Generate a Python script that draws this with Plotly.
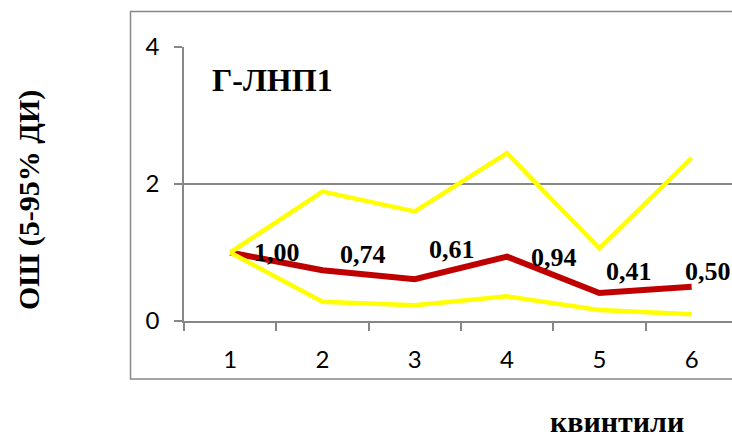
import plotly.graph_objects as go

# Odds ratios by quintile with 5–95% confidence bounds
quintiles = [1, 2, 3, 4, 5, 6]
odds_ratio = [1.00, 0.74, 0.61, 0.94, 0.41, 0.50]
ci_upper = [1.00, 1.89, 1.60, 2.45, 1.06, 2.38]
ci_lower = [1.00, 0.28, 0.23, 0.36, 0.16, 0.10]
y_ticks = [0, 2, 4]

# per-label pixel nudges (x, y) for the value labels
label_shift = [(22, 0), (16, 16), (12, 30), (22, -1), (5, 21), (-9, 15)]

W, H = 732, 437
L, R, T, B = 184, 0, 47, 116
plot_w = W - L - R
plot_h = H - T - B


def px_x(px):
    return (px - L) / plot_w


def px_y(py):
    return (H - B - py) / plot_h


grid = "#878787"
serif = "Liberation Serif"

fig = go.Figure()
fig.add_trace(go.Scatter(x=quintiles, y=odds_ratio, mode="lines",
                         line=dict(color="#C00000", width=6), hoverinfo="skip"))
fig.add_trace(go.Scatter(x=quintiles, y=ci_upper, mode="lines",
                         line=dict(color="#FFFF00", width=4.5), hoverinfo="skip"))
fig.add_trace(go.Scatter(x=quintiles, y=ci_lower, mode="lines",
                         line=dict(color="#FFFF00", width=4.5), hoverinfo="skip"))

for q, v, (dx, dy) in zip(quintiles, odds_ratio, label_shift):
    fig.add_annotation(x=q, y=v, text=f"{v:.2f}".replace(".", ","),
                       showarrow=False, xanchor="left", yanchor="middle",
                       xshift=dx, yshift=dy,
                       font=dict(family=serif, size=26, color="black", weight="bold"))

fig.add_annotation(xref="paper", yref="paper", x=px_x(210), y=px_y(80),
                   text="Г-ЛНП1", showarrow=False, xanchor="left", yanchor="middle",
                   font=dict(family=serif, size=32, color="black", weight="bold"))
fig.add_annotation(xref="paper", yref="paper", x=px_x(29), y=px_y(200),
                   text="ОШ (5-95% ДИ)", showarrow=False, textangle=-90,
                   xanchor="center", yanchor="middle",
                   font=dict(family=serif, size=30, color="black", weight="bold"))
fig.add_annotation(xref="paper", yref="paper", x=px_x(617), y=px_y(421),
                   text="квинтили", showarrow=False, xanchor="center", yanchor="middle",
                   font=dict(family=serif, size=30, color="black", weight="bold"))

# chart frame
fig.add_shape(type="rect", xref="paper", yref="paper",
              x0=px_x(130.5), x1=px_x(745), y0=px_y(379), y1=px_y(11.5),
              line=dict(color=grid, width=1.5), layer="below")

fig.update_layout(
    width=W, height=H,
    margin=dict(l=L, r=R, t=T, b=B, pad=0),
    paper_bgcolor="white", plot_bgcolor="white",
    showlegend=False,
    xaxis=dict(
        range=[0.5, 0.5 + plot_w / 92.3], tickmode="array", tickvals=quintiles,
        ticks="", showgrid=False, zeroline=False,
        showline=True, linecolor=grid, linewidth=1.5,
        ticklabelstandoff=16,
        tickfont=dict(family="Lato", size=24, color="black"),
        minor=dict(tickmode="array", tickvals=[0.5, 1.5, 2.5, 3.5, 4.5, 5.5],
                   ticks="outside", ticklen=8, tickcolor=grid, tickwidth=1.5,
                   showgrid=False),
    ),
    yaxis=dict(
        range=[0, 4], tickmode="array", tickvals=y_ticks,
        ticks="outside", ticklen=8, tickcolor=grid, tickwidth=1.5,
        showgrid=True, gridcolor=grid, gridwidth=1.5, zeroline=False,
        showline=True, linecolor=grid, linewidth=1.5,
        ticklabelstandoff=10,
        tickfont=dict(family="Lato", size=24, color="black"),
    ),
)

fig.write_html("out.html")
